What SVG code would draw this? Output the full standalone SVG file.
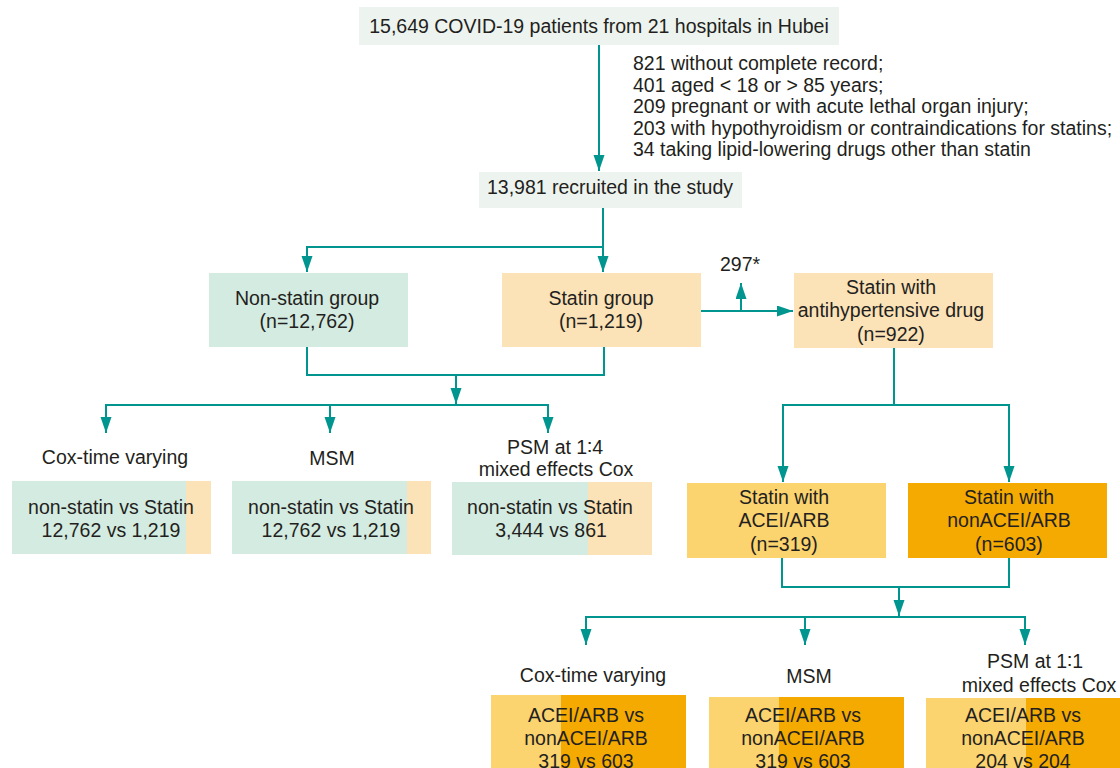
<svg xmlns="http://www.w3.org/2000/svg" width="1120" height="768" viewBox="0 0 1120 768">
<style>
text{font-family:"Liberation Sans",Arial,sans-serif;font-size:19.5px;fill:#231f20}
.c{text-anchor:middle}
.ln{fill:none;stroke:#00968f;stroke-width:2}
.gray{fill:#edf3ee}
.grn{fill:#d4ebe1}
.pch{fill:#fbe2b7}
.yel{fill:#fbd36f}
.org{fill:#f4aa00}
</style>
<defs>
<marker id="ah" markerUnits="userSpaceOnUse" markerWidth="17" markerHeight="12" refX="16" refY="5.5" orient="auto">
<path d="M0,0 L16,5.5 L0,11 z" fill="#00968f"/>
</marker>
</defs>
<rect width="1120" height="768" fill="#ffffff"/>

<g id="connectors">
<path class="ln" d="M599,45 V171" marker-end="url(#ah)"/>
<path class="ln" d="M603,208 V272" marker-end="url(#ah)"/>
<path class="ln" d="M603,247 H307 V272" marker-end="url(#ah)"/>
<path class="ln" d="M307,347 V375 H604 V347"/>
<path class="ln" d="M456,375 V404" marker-end="url(#ah)"/>
<path class="ln" d="M106,433 V405 H548 V433" marker-end="url(#ah)"/>
<path class="ln" d="M330,405 V433" marker-end="url(#ah)"/>
<path class="ln" d="M106,405 V433" marker-end="url(#ah)"/>
<path class="ln" d="M701,311 H793" marker-end="url(#ah)"/>
<path class="ln" d="M741,311 V283" marker-end="url(#ah)"/>
<path class="ln" d="M894,348 V405"/>
<path class="ln" d="M783,482 V405 H1009 V482" marker-end="url(#ah)"/>
<path class="ln" d="M783,405 V482" marker-end="url(#ah)"/>
<path class="ln" d="M782,558 V587 H1009 V558"/>
<path class="ln" d="M899,587 V616" marker-end="url(#ah)"/>
<path class="ln" d="M586,645 V617 H1025 V645" marker-end="url(#ah)"/>
<path class="ln" d="M805,617 V645" marker-end="url(#ah)"/>
<path class="ln" d="M586,617 V645" marker-end="url(#ah)"/>
</g>

<g id="n-total">
<rect class="gray" x="359" y="7" width="480" height="38"/>
<text class="c" x="599" y="33">15,649 COVID-19 patients from 21 hospitals in Hubei</text>
</g>

<g id="n-excluded">
<text x="633" y="70">821 without complete record;</text>
<text x="633" y="91.5">401 aged &lt; 18 or &gt; 85 years;</text>
<text x="633" y="113">209 pregnant or with acute lethal organ injury;</text>
<text x="633" y="134.5">203 with hypothyroidism or contraindications for statins;</text>
<text x="633" y="156">34 taking lipid-lowering drugs other than statin</text>
</g>

<g id="n-recruited">
<rect class="gray" x="479" y="172" width="263" height="36"/>
<text class="c" x="610" y="194">13,981 recruited in the study</text>
</g>

<g id="n-nonstatin">
<rect class="grn" x="209" y="273" width="199" height="74"/>
<text class="c" x="307" y="305">Non-statin group</text>
<text class="c" x="307" y="328">(n=12,762)</text>
</g>

<g id="n-statin">
<rect class="pch" x="502" y="273" width="199" height="74"/>
<text class="c" x="601" y="305">Statin group</text>
<text class="c" x="601" y="328">(n=1,219)</text>
</g>

<g id="n-297">
<text class="c" x="740" y="271">297*</text>
</g>

<g id="n-antihyp">
<rect class="pch" x="794" y="273" width="199" height="75"/>
<text class="c" x="891" y="294">Statin with</text>
<text class="c" x="891" y="317">antihypertensive drug</text>
<text class="c" x="891" y="341">(n=922)</text>
</g>

<g id="n-cox1">
<text class="c" x="115" y="464">Cox-time varying</text>
<rect class="grn" x="12" y="481" width="174" height="73"/>
<rect class="pch" x="186" y="481" width="25" height="73"/>
<text class="c" x="111" y="514">non-statin vs Statin</text>
<text class="c" x="111" y="537">12,762 vs 1,219</text>
</g>

<g id="n-msm1">
<text class="c" x="332" y="465">MSM</text>
<rect class="grn" x="232" y="481" width="175" height="73"/>
<rect class="pch" x="407" y="481" width="24" height="73"/>
<text class="c" x="331" y="514">non-statin vs Statin</text>
<text class="c" x="331" y="537">12,762 vs 1,219</text>
</g>

<g id="n-psm1">
<text class="c" x="555" y="454">PSM at 1∶4</text>
<text class="c" x="556" y="476">mixed effects Cox</text>
<rect class="grn" x="452" y="482" width="136" height="73"/>
<rect class="pch" x="588" y="482" width="64" height="73"/>
<text class="c" x="550" y="514">non-statin vs Statin</text>
<text class="c" x="551" y="537">3,444 vs 861</text>
</g>

<g id="n-acei">
<rect class="yel" x="687" y="483" width="199" height="75"/>
<text class="c" x="784" y="504">Statin with</text>
<text class="c" x="784" y="527">ACEI/ARB</text>
<text class="c" x="784" y="551">(n=319)</text>
</g>

<g id="n-nonacei">
<rect class="org" x="908" y="483" width="199" height="75"/>
<text class="c" x="1009" y="504">Statin with</text>
<text class="c" x="1009" y="527">nonACEI/ARB</text>
<text class="c" x="1009" y="551">(n=603)</text>
</g>

<g id="n-cox2">
<text class="c" x="593" y="682">Cox-time varying</text>
<rect class="yel" x="491" y="695" width="70" height="75"/>
<rect class="org" x="561" y="695" width="125" height="75"/>
<text class="c" x="586" y="722">ACEI/ARB vs</text>
<text class="c" x="586" y="745">nonACEI/ARB</text>
<text class="c" x="586" y="768">319 vs 603</text>
</g>

<g id="n-msm2">
<text class="c" x="809" y="683">MSM</text>
<rect class="yel" x="709" y="697" width="70" height="73"/>
<rect class="org" x="779" y="697" width="125" height="73"/>
<text class="c" x="803" y="722">ACEI/ARB vs</text>
<text class="c" x="803" y="745">nonACEI/ARB</text>
<text class="c" x="803" y="768">319 vs 603</text>
</g>

<g id="n-psm2">
<text class="c" x="1035" y="668">PSM at 1∶1</text>
<text class="c" x="1039" y="692">mixed effects Cox</text>
<rect class="yel" x="926" y="698" width="100" height="72"/>
<rect class="org" x="1026" y="698" width="94" height="72"/>
<text class="c" x="1023" y="722">ACEI/ARB vs</text>
<text class="c" x="1023" y="745">nonACEI/ARB</text>
<text class="c" x="1023" y="768">204 vs 204</text>
</g>
</svg>
